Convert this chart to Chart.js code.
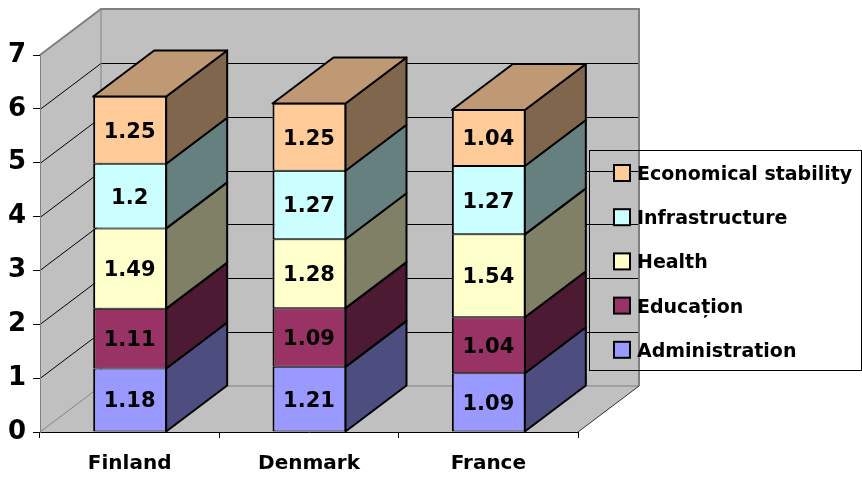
<!DOCTYPE html>
<html>
<head>
<meta charset="utf-8">
<script src="https://cdn.jsdelivr.net/npm/chart.js@4.4.0/dist/chart.umd.min.js"></script>
<style>
  body { margin: 0; background: #fff; }
  canvas { display: block; }
</style>
</head>
<body>
<canvas id="chart" width="862" height="477"></canvas>
<script>
const categories = ['Finland', 'Denmark', 'France'];
const administration = [1.18, 1.21, 1.09];
const education = [1.11, 1.09, 1.04];
const health = [1.49, 1.28, 1.54];
const infrastructure = [1.2, 1.27, 1.27];
const economicalStability = [1.25, 1.25, 1.04];
const seriesNames = ['Administration', 'Educa\u021Bion', 'Health', 'Infrastructure', 'Economical stability'];
const seriesColors = ['#9999FF', '#993366', '#FFFFCC', '#CCFFFF', '#FFCC99'];
const yMax = 7;

// depth of the 3d box in pixels
const DX = 61, DY = -46;
const FONT = 'DejaVu Sans';

function shade(hex, f) {
  const n = parseInt(hex.slice(1), 16);
  const r = Math.round(((n >> 16) & 255) * f);
  const g = Math.round(((n >> 8) & 255) * f);
  const b = Math.round((n & 255) * f);
  return 'rgb(' + r + ',' + g + ',' + b + ')';
}

function poly(ctx, pts) {
  ctx.beginPath();
  ctx.moveTo(pts[0][0], pts[0][1]);
  for (let i = 1; i < pts.length; i++) ctx.lineTo(pts[i][0], pts[i][1]);
  ctx.closePath();
}

// grey walls, floor and the gridlines behind the bars
const walls = {
  id: 'walls',
  beforeDraw(chart) {
    const ctx = chart.ctx, a = chart.chartArea;
    const L = a.left, R = a.right, T = a.top, B = a.bottom;
    ctx.save();
    ctx.fillStyle = '#C0C0C0';
    ctx.fillRect(L + DX, T + DY, R - L, B - T);
    poly(ctx, [[L, B], [L, T], [L + DX, T + DY], [L + DX, B + DY]]);
    ctx.fill();
    poly(ctx, [[L, B], [R, B], [R + DX, B + DY], [L + DX, B + DY]]);
    ctx.fill();

    const ys = chart.scales.y;
    ctx.strokeStyle = '#000';
    ctx.lineWidth = 1;
    for (let v = 1; v < yMax; v++) {
      const py = Math.round(ys.getPixelForValue(v)) + 0.5;
      ctx.beginPath();
      ctx.moveTo(L, py);
      ctx.lineTo(L + DX, py + DY);
      ctx.lineTo(R + DX, py + DY);
      ctx.stroke();
    }

    ctx.strokeStyle = '#808080';
    ctx.lineWidth = 1;
    ctx.beginPath();
    ctx.moveTo(L + DX, T + DY);
    ctx.lineTo(L + DX, B + DY);
    ctx.lineTo(R + DX, B + DY);
    ctx.moveTo(L, B);
    ctx.lineTo(L + DX, B + DY);
    ctx.stroke();

    ctx.lineWidth = 2;
    ctx.beginPath();
    ctx.moveTo(L, T);
    ctx.lineTo(L + DX, T + DY);
    ctx.lineTo(R + DX, T + DY);
    ctx.lineTo(R + DX, B + DY);
    ctx.stroke();

    ctx.strokeStyle = '#303030';
    ctx.lineWidth = 1;
    ctx.beginPath();
    ctx.moveTo(R, B);
    ctx.lineTo(R + DX, B + DY);
    ctx.stroke();
    ctx.restore();
  }
};

// side and top faces of each stacked block, plus the value labels
const boxes = {
  id: 'boxes',
  afterDatasetsDraw(chart) {
    const ctx = chart.ctx;
    const last = chart.data.datasets.length - 1;
    ctx.save();
    ctx.strokeStyle = '#000';
    ctx.lineWidth = 2;
    ctx.lineJoin = 'round';
    chart.data.datasets.forEach((ds, i) => {
      chart.getDatasetMeta(i).data.forEach(bar => {
        const p = bar.getProps(['x', 'y', 'base', 'width'], true);
        const l = p.x - p.width / 2, r = p.x + p.width / 2;
        poly(ctx, [[r, p.y], [r + DX, p.y + DY], [r + DX, p.base + DY], [r, p.base]]);
        ctx.fillStyle = shade(ds.backgroundColor, 0.5);
        ctx.fill();
        ctx.stroke();
        if (i === last) {
          poly(ctx, [[l, p.y], [l + DX, p.y + DY], [r + DX, p.y + DY], [r, p.y]]);
          ctx.fillStyle = shade(ds.backgroundColor, 0.75);
          ctx.fill();
          ctx.stroke();
        }
      });
    });

    ctx.fillStyle = '#000';
    ctx.font = 'bold 21px ' + FONT;
    ctx.textAlign = 'center';
    ctx.textBaseline = 'alphabetic';
    chart.data.datasets.forEach((ds, i) => {
      chart.getDatasetMeta(i).data.forEach((bar, j) => {
        const p = bar.getProps(['x', 'y', 'base'], true);
        ctx.fillText(String(ds.data[j]), p.x, (p.y + p.base) / 2 + 7.5);
      });
    });
    ctx.restore();
  }
};

// boxed legend, top series first
const sideLegend = {
  id: 'sideLegend',
  afterDraw(chart) {
    const ctx = chart.ctx;
    ctx.save();
    ctx.strokeStyle = '#000';
    ctx.lineWidth = 1;
    ctx.strokeRect(589.5, 150.5, 272, 220);
    ctx.font = 'bold 19px ' + FONT;
    ctx.textAlign = 'left';
    ctx.textBaseline = 'alphabetic';
    const items = chart.data.datasets.slice().reverse();
    items.forEach((ds, k) => {
      const cy = 173 + k * 44.2;
      ctx.fillStyle = ds.backgroundColor;
      ctx.lineWidth = 2;
      ctx.fillRect(614, cy - 8, 16, 16);
      ctx.strokeRect(614, cy - 8, 16, 16);
      ctx.fillStyle = '#000';
      ctx.fillText(ds.label, 637, cy + 7);
    });
    ctx.restore();
  }
};

const seriesData = [administration, education, health, infrastructure, economicalStability];

const config = {
  type: 'bar',
  data: {
    labels: categories,
    datasets: seriesData.map((d, i) => ({
      label: seriesNames[i],
      data: d,
      backgroundColor: seriesColors[i],
      borderColor: '#000',
      borderWidth: { top: 1, bottom: 1, left: 2, right: 1 },
      borderSkipped: false,
      categoryPercentage: 1,
      barPercentage: 0.407
    }))
  },
  options: {
    responsive: false,
    animation: false,
    layout: { padding: { top: 55, right: 284, left: 0, bottom: 0 } },
    plugins: {
      legend: { display: false },
      tooltip: { enabled: false }
    },
    scales: {
      x: {
        stacked: true,
        offset: true,
        grid: { offset: true, drawOnChartArea: false, color: '#000', tickLength: 6 },
        border: { color: '#000', width: 1 },
        ticks: { color: '#000', padding: 14, font: { family: FONT, size: 20, weight: 'bold' } },
        afterFit(scale) { scale.height = 45; }
      },
      y: {
        stacked: true,
        min: 0,
        max: yMax,
        grid: { drawOnChartArea: false, color: '#000', tickLength: 7 },
        border: { color: '#808080', width: 1 },
        ticks: { stepSize: 1, color: '#000', padding: 7, font: { family: FONT, size: 26, weight: 'bold' } },
        afterFit(scale) { scale.width = 40; }
      }
    }
  },
  plugins: [walls, boxes, sideLegend]
};

window.onload = function() {
  const ctx = document.getElementById('chart').getContext('2d');
  window.myChart = new Chart(ctx, config);
};
</script>
</body>
</html>
